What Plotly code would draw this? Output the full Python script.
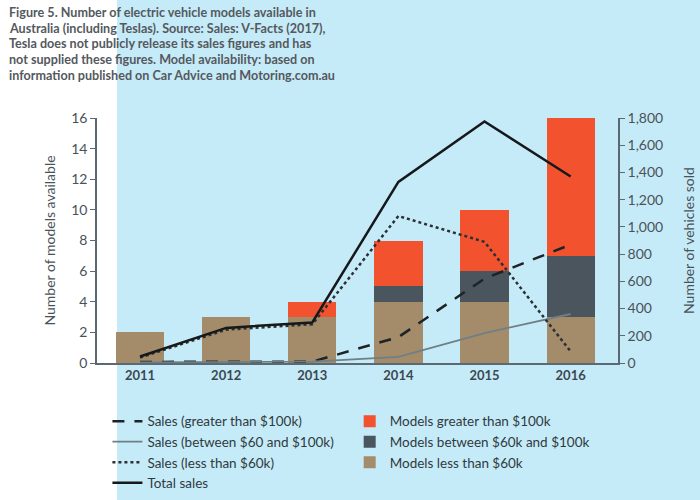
import plotly.graph_objects as go

years = ["2011", "2012", "2013", "2014", "2015", "2016"]
models_less_60k = [2, 3, 3, 4, 4, 3]
models_60k_100k = [0, 0, 0, 1, 2, 4]
models_gt_100k = [0, 0, 1, 3, 4, 9]

sales_gt_100k = [8, 10, 10, 190, 620, 870]
sales_60_100k = [5, 5, 10, 45, 220, 360]
sales_lt_60k = [40, 245, 285, 1080, 890, 85]
total_sales = [48, 258, 298, 1330, 1775, 1370]

title_lines = [
    "Figure 5. Number of electric vehicle models available in",
    "Australia (including Teslas). Source: Sales: V-Facts (2017),",
    "Tesla does not publicly release its sales figures and has",
    "not supplied these figures. Model availability: based on",
    "information published on Car Advice and Motoring.com.au",
]

FONT = "Lato"
TXT = "#4a4f55"
ORANGE = "#F2522D"
DGRAY = "#4A555D"
TAN = "#A48B69"
BG = "#C6EBF8"
AX = "#5b6a72"

fig = go.Figure()

fig.add_trace(go.Bar(x=years, y=models_less_60k, name="Models less than $60k",
                     marker=dict(color=TAN, line=dict(width=0)), legend="legend2", yaxis="y"))
fig.add_trace(go.Bar(x=years, y=models_60k_100k, name="Models between $60k and $100k",
                     marker=dict(color=DGRAY, line=dict(width=0)), legend="legend2", yaxis="y"))
fig.add_trace(go.Bar(x=years, y=models_gt_100k, name="Models greater than $100k",
                     marker=dict(color=ORANGE, line=dict(width=0)), legend="legend2", yaxis="y"))

fig.add_trace(go.Scatter(x=years, y=sales_gt_100k, name="Sales (greater than $100k)", mode="lines",
                         line=dict(color="#1e2326", width=2.5, dash="12px,10px"), yaxis="y2", legend="legend",
                         legendrank=1))
fig.add_trace(go.Scatter(x=years, y=sales_60_100k, name="Sales (between $60 and $100k)", mode="lines",
                         line=dict(color="#6f7f86", width=1.8), yaxis="y2", legend="legend", legendrank=2))
fig.add_trace(go.Scatter(x=years, y=sales_lt_60k, name="Sales (less than $60k)", mode="lines",
                         line=dict(color="#2a3034", width=2.5, dash="dot"), yaxis="y2", legend="legend",
                         legendrank=3))
fig.add_trace(go.Scatter(x=years, y=total_sales, name="Total sales", mode="lines",
                         line=dict(color="#15191b", width=2.5), yaxis="y2", legend="legend", legendrank=4))

fig.add_shape(type="rect", xref="paper", yref="paper", x0=0.0384, x1=1.2, y0=-0.6, y1=1.5,
              fillcolor=BG, line=dict(width=0), layer="below")

PLOT_H = 245.0
for i, line in enumerate(title_lines):
    ypix = 12.7 + 15.6 * i
    fig.add_annotation(xref="paper", yref="paper", x=-0.172, y=(363 - ypix) / PLOT_H,
                       xanchor="left", yanchor="middle", text=line, showarrow=False, align="left",
                       font=dict(family=FONT, size=12.6, color="#54595e", weight="bold"))

fig.update_layout(
    width=700, height=500,
    margin=dict(l=97, r=82, t=118, b=137, autoexpand=False),
    paper_bgcolor="white", plot_bgcolor="rgba(0,0,0,0)",
    barmode="stack", bargap=0.44,
    font=dict(family=FONT, color=TXT, size=13),
    showlegend=True,
    xaxis=dict(range=[-0.5, 5.55], showline=True, linecolor=AX, linewidth=1.5, ticks="",
               showgrid=False, tickfont=dict(size=13, color="#3b4850", weight="bold"), fixedrange=True,
               automargin=False),
    yaxis=dict(range=[0, 16], dtick=2, showline=True, linecolor=AX, linewidth=1.5, ticks="outside",
               ticklen=5, tickcolor=AX, showgrid=False, zeroline=False, automargin=False,
               title=dict(text="Number of models available", font=dict(size=14, color="#4a5259"), standoff=12),
               tickfont=dict(size=14, color="#4a5259")),
    yaxis2=dict(range=[0, 1800], dtick=200, overlaying="y", side="right", showline=True, linecolor=AX,
                linewidth=1.5, ticks="outside", ticklen=5, tickcolor=AX, showgrid=False, zeroline=False,
                automargin=False, tickformat=",",
                title=dict(text="Number of vehicles sold", font=dict(size=14, color="#4a5259"), standoff=22),
                tickfont=dict(size=14, color="#4a5259")),
    legend=dict(x=0.02, y=-0.175, xref="paper", yref="paper", xanchor="left", yanchor="top",
                bgcolor="rgba(0,0,0,0)", font=dict(size=13.5, color="#2f3a40"), tracegroupgap=0,
                itemwidth=30),
    legend2=dict(x=0.485, y=-0.175, xref="paper", yref="paper", xanchor="left", yanchor="top",
                 bgcolor="rgba(0,0,0,0)", font=dict(size=13.5, color="#2f3a40"), traceorder="reversed",
                 itemwidth=30),
)

fig.write_html("out.html", config={"displayModeBar": False},
               post_script="document.body.style.margin='0';document.body.style.padding='0';")
